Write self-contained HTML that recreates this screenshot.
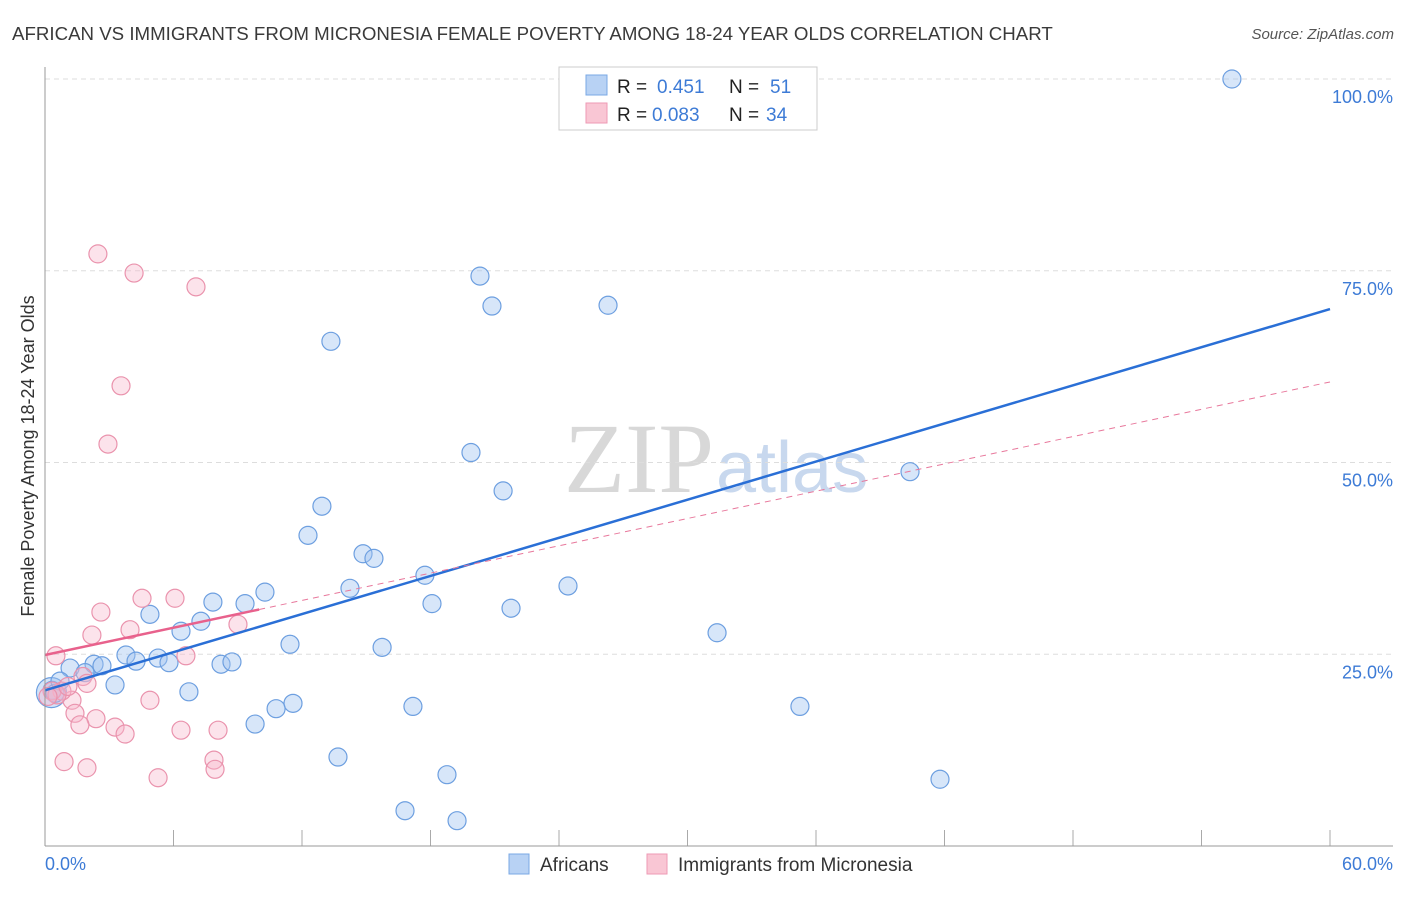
<!DOCTYPE html>
<html><head><meta charset="utf-8"><style>
body{margin:0;background:#fff;font-family:"Liberation Sans",sans-serif;}
</style></head><body>
<svg width="1406" height="892" xmlns="http://www.w3.org/2000/svg" id="chart">
<text x="12" y="40" font-size="18.7" fill="#3a3a3a">AFRICAN VS IMMIGRANTS FROM MICRONESIA FEMALE POVERTY AMONG 18-24 YEAR OLDS CORRELATION CHART</text>
<text x="1394" y="39" font-size="15" fill="#555" font-style="italic" text-anchor="end">Source: ZipAtlas.com</text>
<text x="714" y="492" font-size="100" fill="#d8d8d8" text-anchor="end" font-family="Liberation Serif,serif">ZIP</text>
<text x="716" y="492" font-size="72" fill="#c8d8ee">atlas</text>
<text transform="translate(34,456) rotate(-90)" font-size="18" fill="#333" text-anchor="middle">Female Poverty Among 18-24 Year Olds</text>
<g id="grid"></g><g id="pts"></g><g id="lines"></g>
<line x1="45" y1="67" x2="45" y2="846" stroke="#999"/>
<line x1="45" y1="846" x2="1393" y2="846" stroke="#999"/>
<text x="45" y="870" font-size="18" fill="#3d7bd6">0.0%</text>
<text x="1393" y="870" font-size="18" fill="#3d7bd6" text-anchor="end">60.0%</text>
<g>
<rect x="559" y="67" width="258" height="63" fill="#fff" stroke="#ccc"/>
<rect x="586" y="75" width="21" height="20" fill="#b8d2f4" stroke="#7aa8e4"/>
<rect x="586" y="103" width="21" height="20" fill="#f9c6d4" stroke="#ee9ab4"/>
<text x="617" y="93" font-size="19" fill="#222">R =</text><text x="657" y="93" font-size="19" fill="#3d7bd6">0.451</text>
<text x="729" y="93" font-size="19" fill="#222">N =</text><text x="770" y="93" font-size="19" fill="#3d7bd6">51</text>
<text x="617" y="121" font-size="19" fill="#222">R =</text><text x="652" y="121" font-size="19" fill="#3d7bd6">0.083</text>
<text x="729" y="121" font-size="19" fill="#222">N =</text><text x="766" y="121" font-size="19" fill="#3d7bd6">34</text>
</g>
<g><rect x="509" y="854" width="20" height="20" fill="#b8d2f4" stroke="#7aa8e4"/><text x="540" y="871" font-size="19" fill="#333">Africans</text></g>
<g><rect x="647" y="854" width="20" height="20" fill="#f9c6d4" stroke="#ee9ab4"/><text x="678" y="871" font-size="19" fill="#333">Immigrants from Micronesia</text></g>
</svg>
<script>
const yTicks=[25,50,75,100];
const yTickLabels=["25.0%","50.0%","75.0%","100.0%"];
const xTicks=[0,6,12,18,24,30,36,42,48,54,60];
const blueX=[55.42,20.31,20.87,26.29,13.35,19.89,21.39,40.39,12.93,12.28,14.85,15.36,14.24,17.74,10.27,24.42,18.07,21.76,7.84,9.34,4.90,7.28,6.35,31.38,11.44,15.74,3.78,4.25,5.28,5.79,8.22,8.73,2.29,2.66,1.17,1.87,3.27,6.72,11.58,10.79,17.18,35.25,9.81,13.68,18.77,41.79,16.81,19.24,0.33,0.47,0.70];
const blueY=[100,74.3,70.4,70.5,65.8,51.3,46.3,48.8,44.3,40.5,38.1,37.5,33.6,35.3,33.1,33.9,31.6,31.0,31.8,31.6,30.2,29.3,28.0,27.8,26.3,25.9,24.9,24.1,24.5,23.9,23.7,24.0,23.7,23.5,23.2,22.6,21.0,20.1,18.6,17.9,18.2,18.2,15.9,11.6,9.3,8.7,4.6,3.3,20.3,19.9,21.5];
const bigBlueX=[0.3];
const bigBlueY=[20.0];
const pinkX=[2.47,4.16,7.05,3.55,2.94,4.53,6.07,2.61,3.97,2.19,9.01,6.58,0.51,1.77,1.96,4.90,1.26,0.79,0.33,1.40,2.38,1.63,3.27,3.74,6.35,8.08,0.89,1.96,5.28,7.89,7.94,0.56,1.07,0.14];
const pinkY=[77.2,74.7,72.9,60.0,52.4,32.3,32.3,30.5,28.2,27.5,28.9,24.8,24.8,22.1,21.2,19.0,19.0,20.2,20.2,17.3,16.6,15.8,15.5,14.6,15.1,15.1,11.0,10.2,8.9,11.2,10.0,19.7,20.8,19.5];
const blueTrend=[20.3,70.0];
const pinkTrend=[24.9,60.5];
const pinkSolidEnd=[10];
const NS="http://www.w3.org/2000/svg";
const sx=v=>45+v/60*1285, sy=v=>846-v/100*767;
function mk(tag,attrs,parent){const e=document.createElementNS(NS,tag);for(const k in attrs)e.setAttribute(k,attrs[k]);document.getElementById(parent).appendChild(e);return e;}
yTicks.forEach((t,i)=>{
 const l=mk('line',{x1:45,x2:1393,y1:sy(t),y2:sy(t),stroke:'#ddd','stroke-dasharray':'5,4'},'grid');
 
 
 const tx=mk('text',{x:1393,y:sy(t)+24,'font-size':18,fill:'#3d7bd6','text-anchor':'end'},'grid');
 tx.textContent=yTickLabels[i];
 
 
});
xTicks.forEach(t=>{
 const l=mk('line',{x1:sx(t),x2:sx(t),y1:830,y2:846,stroke:'#aaa'},'grid');
 
 
});
bigBlueX.forEach((x,i)=>{
 const c=mk('circle',{cx:sx(x),cy:sy(bigBlueY[i]),r:15,fill:'rgba(160,196,240,0.45)',stroke:'#6d9fe0','stroke-width':1.2},'pts');
 
 
});
blueX.forEach((x,i)=>{
 const c=mk('circle',{cx:sx(x),cy:sy(blueY[i]),r:9,fill:'rgba(160,196,240,0.42)',stroke:'#6d9fe0','stroke-width':1.2},'pts');
 
 
});
pinkX.forEach((x,i)=>{
 const c=mk('circle',{cx:sx(x),cy:sy(pinkY[i]),r:9,fill:'rgba(246,182,202,0.38)',stroke:'#ea93ad','stroke-width':1.2},'pts');
 
 
});
const bl=mk('line',{x1:sx(0),y1:sy(blueTrend[0]),x2:sx(60),y2:sy(blueTrend[1]),stroke:'#2a6fd6','stroke-width':2.5},'lines');


const pAt=x=>pinkTrend[0]+(pinkTrend[1]-pinkTrend[0])*x/60;
const pd=mk('line',{x1:sx(pinkSolidEnd[0]),y1:sy(pAt(pinkSolidEnd[0])),x2:sx(60),y2:sy(pinkTrend[1]),stroke:'#e8789c','stroke-width':1,'stroke-dasharray':'6,5'},'lines');


const ps=mk('line',{x1:sx(0),y1:sy(pinkTrend[0]),x2:sx(pinkSolidEnd[0]),y2:sy(pAt(pinkSolidEnd[0])),stroke:'#e8618c','stroke-width':2.5},'lines');


</script>
</body></html>
